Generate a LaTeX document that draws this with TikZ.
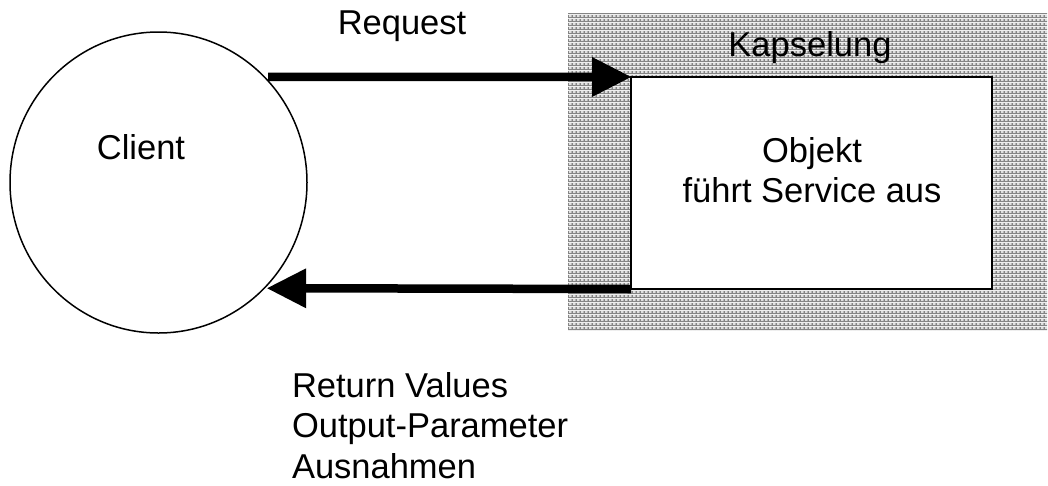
\documentclass[tikz,border=0pt]{standalone}
\usepackage{fontspec}
\setmainfont{Liberation Sans}
\usetikzlibrary{arrows.meta,shapes.geometric,patterns.meta}

% fine halftone used for the encapsulation area
\pgfdeclarepattern{
  name=halftone,
  type=colored,
  bottom left={\pgfpointorigin},
  top right={\pgfpoint{4pt}{4pt}},
  tile size={\pgfpoint{4pt}{4pt}},
  code={
    \pgfsetfillcolor{black!48}
    \pgfpathrectangle{\pgfpointorigin}{\pgfpoint{4pt}{4pt}}
    \pgfusepath{fill}
    \pgfsetfillcolor{black!12}
    \pgfpathrectangle{\pgfpoint{1.5pt}{1.5pt}}{\pgfpoint{2.5pt}{2.5pt}}
    \pgfusepath{fill}
  }
}

\tikzset{
  txt/.style={font=\fontsize{34.5}{40.5}\selectfont, inner sep=0pt, outer sep=0pt},
  flow/.style={line width=8.5pt,
    -{Triangle[length=39pt,width=40pt,line width=0pt]}},
  hull/.style={pattern=halftone, draw=none, inner sep=0pt, outer sep=0pt},
  objbox/.style={draw, line width=2pt, fill=white, inner sep=0pt, outer sep=0pt},
  actor/.style={ellipse, draw, line width=1.5pt, inner sep=0pt, outer sep=0pt},
}

\begin{document}
\begin{tikzpicture}[x=1pt,y=-1pt]
\useasboundingbox (0,0) rectangle (1048,485);

% encapsulation area and the object inside it
\node[hull, anchor=north west, minimum width=479pt, minimum height=317pt]
  (kapsel) at (568,13) {};
\node[objbox, anchor=north west, minimum width=361pt, minimum height=212pt]
  (obj) at (631,77) {};
\node[txt, anchor=base] (kapsellbl) at (810,56) {Kapselung};
\node[txt, anchor=north, align=center] (objlbl) at (812,137)
  {Objekt\\führt Service aus};

% client
\node[actor, minimum width=297pt, minimum height=301pt] (client) at (158.5,182.5) {};
\node[txt, anchor=base] (clientlbl) at (141,159) {Client};

% request and reply
\draw[flow, shorten <=4pt] (client.45) -- (obj.north west);
\draw[flow, shorten >=3pt] (obj.south west) -- (client.-45);

\node[txt, anchor=base] (reqlbl) at (402,34) {Request};
\node[txt, anchor=north west, align=left] (retlbl) at (292,372.3)
  {Return Values\\Output-Parameter\\Ausnahmen};
\end{tikzpicture}
\end{document}
